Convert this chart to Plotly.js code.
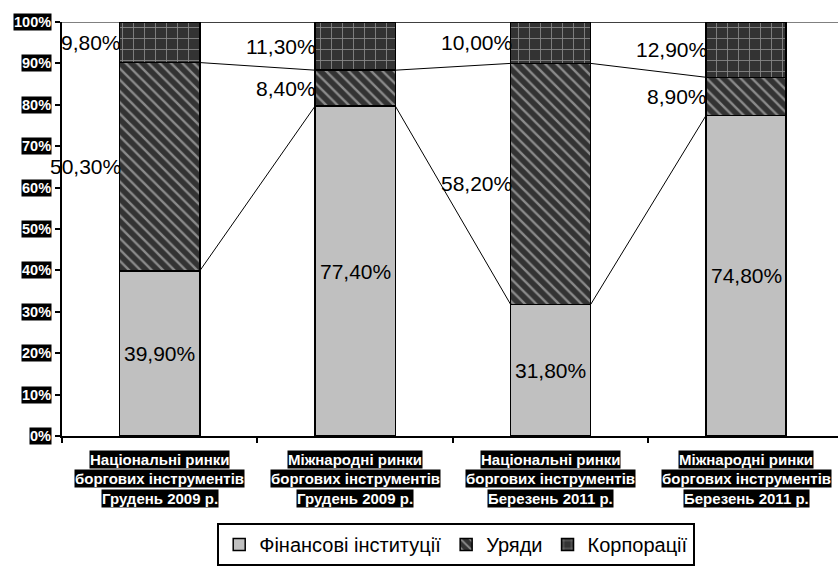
<!DOCTYPE html>
<html>
<head>
<meta charset="utf-8">
<script src="https://cdn.plot.ly/plotly-3.0.1.min.js"></script>
<style>html,body{margin:0;padding:0;background:#fff;}#chart{width:838px;height:566px;}</style>
</head>
<body>
<div id="chart"></div>
<script>
// Categories (each split into three label lines)
const categoryLines = [
  ["Національні ринки", "боргових інструментів", "Грудень 2009 р."],
  ["Міжнародні ринки", "боргових інструментів", "Грудень 2009 р."],
  ["Національні ринки", "боргових інструментів", "Березень 2011 р."],
  ["Міжнародні ринки", "боргових інструментів", "Березень 2011 р."]
];
const seriesNames = ["Фінансові інституції", "Уряди", "Корпорації"];
const financial = [39.9, 77.4, 31.8, 74.8];
const government = [50.3, 8.4, 58.2, 8.9];
const corporations = [9.8, 11.3, 10.0, 12.9];
const yTickLabels = ["0%","10%","20%","30%","40%","50%","60%","70%","80%","90%","100%"];

const FONT = "Arial, 'Liberation Sans', sans-serif";
const xs = categoryLines.map((_, i) => i);
const barW = 0.41, hw = barW / 2;

const series = [financial, government, corporations];
const markers = [
  {color: "#c0c0c0", line: {color: "#000", width: 1.5}},
  {color: "#333333", line: {color: "#000", width: 1.5},
   pattern: {shape: "\\", fgcolor: "#8a8a8a", bgcolor: "#333333", size: 8, solidity: 0.3, fillmode: "replace"}},
  {color: "#333333", line: {color: "#000", width: 1.5},
   pattern: {shape: "+", fgcolor: "#8a8a8a", bgcolor: "#333333", size: 11, solidity: 0.15, fillmode: "replace"}}
];

const traces = series.map((vals, k) => ({
  type: "bar", x: xs, y: vals, name: seriesNames[k], width: barW,
  marker: markers[k], hoverinfo: "skip"
}));

// normalized cumulative levels (100% stacked)
const totals = xs.map(i => financial[i] + government[i] + corporations[i]);
const norm = series.map(vals => vals.map((v, i) => v / totals[i] * 100));
const cum = [];
let acc = xs.map(() => 0);
norm.forEach(n => { acc = acc.map((a, i) => a + n[i]); cum.push(acc.slice()); });

// series lines
const lx = [], ly = [];
for (let k = 0; k < 3; k++) {
  for (let i = 0; i < xs.length - 1; i++) {
    lx.push(xs[i] + hw, xs[i + 1] - hw, null);
    ly.push(cum[k][i], cum[k][i + 1], null);
  }
}
traces.push({type: "scatter", mode: "lines", x: lx, y: ly, line: {color: "#000", width: 1},
  showlegend: false, hoverinfo: "skip", cliponaxis: false});

const fmt = v => v.toFixed(2).replace(".", ",") + "%";
const LBL = 21;
const annotations = [];
// data labels
xs.forEach(i => {
  annotations.push({x: xs[i], y: norm[0][i] / 2, text: fmt(financial[i]), showarrow: false,
    font: {family: FONT, size: LBL, color: "#000"}, xanchor: "center", yanchor: "middle"});
  annotations.push({x: xs[i] - hw, y: cum[0][i] + norm[1][i] / 2, text: fmt(government[i]), showarrow: false,
    font: {family: FONT, size: LBL, color: "#000"}, xanchor: "right", yanchor: "middle", borderpad: 0, xshift: 2});
  annotations.push({x: xs[i] - hw, y: cum[1][i] + norm[2][i] / 2, text: fmt(corporations[i]), showarrow: false,
    font: {family: FONT, size: LBL, color: "#000"}, xanchor: "right", yanchor: "middle", borderpad: 0, xshift: 2});
});
// y tick labels
yTickLabels.forEach((t, j) => {
  annotations.push({xref: "paper", x: 0, y: j * 10, text: "<b>" + t + "</b>", showarrow: false,
    xanchor: "right", yanchor: "middle", xshift: -10, bgcolor: "#000", borderpad: 0,
    font: {family: FONT, size: 14.5, color: "#fff"}});
});
// x category labels
categoryLines.forEach((lines, i) => {
  lines.forEach((t, r) => {
    annotations.push({x: xs[i], yref: "paper", y: 0, text: "<b>" + t + "</b>", showarrow: false,
      xanchor: "center", yanchor: "middle", yshift: -23 - r * 19.5, bgcolor: "#000", borderpad: 0,
      font: {family: FONT, size: 15, color: "#fff"}});
  });
});

const layout = {
  width: 838, height: 566,
  margin: {l: 62, r: 0, t: 22, b: 126},
  paper_bgcolor: "#fff", plot_bgcolor: "#fff",
  barmode: "stack", barnorm: "percent",
  font: {family: FONT, color: "#000"},
  showlegend: true,
  legend: {orientation: "h", x: 0.508, xanchor: "center", y: -0.2105, yanchor: "top",
    traceorder: "normal", bordercolor: "#000", borderwidth: 2, bgcolor: "#fff",
    font: {family: FONT, size: 20, color: "#000"}, itemwidth: 30},
  xaxis: {type: "linear", range: [-0.5, 3.47], tickvals: [-0.5, 0.5, 1.5, 2.5, 3.5],
    showticklabels: false, ticks: "outside", ticklen: 5, tickwidth: 2, tickcolor: "#000",
    showline: true, linecolor: "#000", linewidth: 2, showgrid: false, zeroline: false, fixedrange: true},
  yaxis: {range: [0, 100], tickvals: [0,10,20,30,40,50,60,70,80,90,100], showticklabels: false,
    ticks: "outside", ticklen: 5, tickwidth: 2, tickcolor: "#000",
    showline: true, linecolor: "#000", linewidth: 2, showgrid: false, zeroline: false, fixedrange: true},
  shapes: [{type: "line", xref: "paper", x0: 0, x1: 1, y0: 100, y1: 100, line: {color: "#808080", width: 2}, layer: "below"}],
  annotations: annotations
};

Plotly.newPlot("chart", traces, layout, {displayModeBar: false, staticPlot: true});
</script>
</body>
</html>
